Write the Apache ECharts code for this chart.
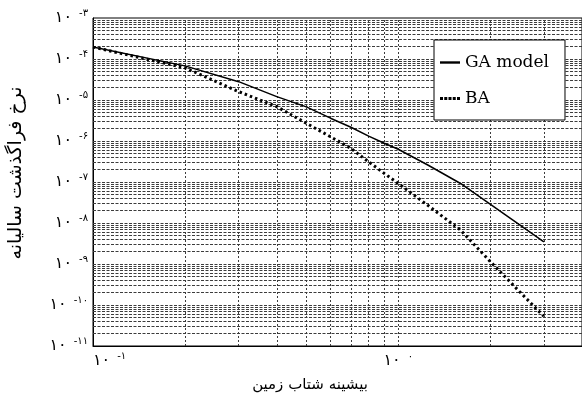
<!DOCTYPE html>
<html>
<head>
<meta charset="utf-8">
<script src="https://cdn.jsdelivr.net/npm/echarts@6/dist/echarts.min.js"></script>
<style>
html,body{margin:0;padding:0;background:#fff;}
#c{width:582px;height:399px;}
</style>
</head>
<body>
<div id="c"></div>
<script>
// ---- data ----
const xValues = [0.1, 0.2, 0.3, 0.4, 0.5, 0.6, 0.7, 0.8, 0.9, 1.0, 1.25, 1.6, 2.0, 2.5, 3.0];
const gaRate  = [1.95e-4, 6.8e-5, 2.8e-5, 1.21e-5, 6.8e-6, 3.6e-6, 2.16e-6, 1.32e-6, 8.8e-7, 6.3e-7, 2.6e-7, 9.2e-8, 2.9e-8, 9.0e-9, 3.45e-9];
const baRate  = [1.95e-4, 6.1e-5, 1.6e-5, 6.9e-6, 2.7e-6, 1.27e-6, 6.6e-7, 3.1e-7, 1.62e-7, 9.2e-8, 2.7e-8, 6.7e-9, 1.16e-9, 2.1e-10, 5.3e-11];
const seriesNames = ['GA model', 'BA'];
const yExponents = [-3, -4, -5, -6, -7, -8, -9, -10, -11];
const xExponents = [-1, 0];
const yMultipliers = [1, 2, 3, 4, 5, 6, 7, 8, 9];
const xGridValues = [0.2, 0.3, 0.4, 0.5, 0.6, 0.7, 0.8, 0.9, 1, 2, 3];
const xRange = [0.1, 4];
const yRange = [1e-11, 1e-3];
const xTitle = 'بیشینه شتاب زمین';
const yTitle = 'نرخ فراگذشت سالیانه';

const faDigits = '۰۱۲۳۴۵۶۷۸۹';
const fa = s => String(s).replace(/\d/g, d => faDigits[+d]);
function powLabel(e) {
  return '{b|' + fa(10) + '}{e|' + (e < 0 ? '-' : '') + fa(Math.abs(e)) + '}';
}
function labelFor(v, exps) {
  const lg = Math.log10(v);
  const e = Math.round(lg);
  if (Math.abs(lg - e) > 1e-6) return '';
  if (exps.indexOf(e) < 0) return '';
  return powLabel(e);
}

const hLines = [];
const yMinE = Math.min.apply(null, yExponents), yMaxE = Math.max.apply(null, yExponents);
for (let e = yMinE; e < yMaxE; e++) {
  yMultipliers.forEach(m => {
    if (e === yMinE && m === 1) return;
    const v = m * Math.pow(10, e);
    hLines.push({ coords: [[xRange[0], v], [xRange[1], v]] });
  });
}
const vLines = xGridValues.map(v => ({ coords: [[v, yRange[0]], [v, yRange[1]]] }));

const rich = {
  b: { fontFamily: 'DejaVu Sans', fontSize: 16, color: '#000' },
  e: { fontFamily: 'DejaVu Sans', fontSize: 10, color: '#000', padding: [0, 0, 10, 7] }
};

const chart = echarts.init(document.getElementById('c'), null, { renderer: 'canvas' });
chart.setOption({
  animation: false,
  backgroundColor: '#fff',
  grid: { left: 93, top: 18, width: 497, height: 328, show: true, borderColor: '#000', borderWidth: 1, containLabel: false },
  xAxis: {
    type: 'log', logBase: 10, min: xRange[0], max: xRange[1],
    axisLine: { show: true, lineStyle: { color: '#000', width: 1 } },
    axisTick: { show: false },
    splitLine: { show: false },
    axisLabel: { margin: 5, showMaxLabel: false, alignMinLabel: 'left', formatter: v => labelFor(v, xExponents), rich: rich }
  },
  yAxis: {
    type: 'log', logBase: 10, min: yRange[0], max: yRange[1], splitNumber: 8,
    axisLine: { show: true, lineStyle: { color: '#000', width: 1 } },
    axisTick: { show: false },
    splitLine: { show: false },
    axisLabel: { margin: 5, formatter: v => labelFor(v, yExponents), rich: rich }
  },
  legend: {
    data: [
      { name: seriesNames[0], icon: 'path://M0,0H20V2.4H0Z' },
      { name: seriesNames[1], icon: 'path://M0,0h3v3h-3zM4.25,0h3v3h-3zM8.5,0h3v3h-3zM12.75,0h3v3h-3zM17,0h3v3h-3z' }
    ],
    orient: 'vertical', left: 434, top: 40,
    backgroundColor: '#fff', borderColor: '#000', borderWidth: 1,
    padding: [14, 16, 13, 6], itemGap: 19, itemWidth: 20, itemHeight: 3,
    textStyle: { fontFamily: 'DejaVu Serif', fontSize: 17, color: '#000' }
  },
  graphic: [
    { type: 'text', x: 310, y: 385, style: { text: xTitle, fontFamily: 'DejaVu Sans', fontSize: 15, fill: '#000', textAlign: 'center', textVerticalAlign: 'middle' } },
    { type: 'text', x: 16, y: 173, rotation: Math.PI / 2, style: { text: yTitle, fontFamily: 'DejaVu Sans', fontSize: 19, fill: '#000', textAlign: 'center', textVerticalAlign: 'middle' } }
  ],
  series: [
    {
      name: 'hgrid', type: 'lines', coordinateSystem: 'cartesian2d', silent: true, z: 1,
      lineStyle: { color: '#3c3c3c', width: 1, type: [3, 1.5], opacity: 1 },
      data: hLines
    },
    {
      name: 'vgrid', type: 'lines', coordinateSystem: 'cartesian2d', silent: true, z: 1,
      lineStyle: { color: '#3c3c3c', width: 1, type: [2, 2], opacity: 1 },
      data: vLines
    },
    {
      name: seriesNames[0], type: 'line', z: 3, symbol: 'none', smooth: false,
      data: xValues.map((x, i) => [x, gaRate[i]]),
      lineStyle: { color: '#000', width: 1.5, type: 'solid' },
      itemStyle: { color: '#000' }
    },
    {
      name: seriesNames[1], type: 'line', z: 3, symbol: 'none', smooth: false,
      data: xValues.map((x, i) => [x, baRate[i]]),
      lineStyle: { color: '#000', width: 3, type: [2.5, 3], cap: 'butt' },
      itemStyle: { color: '#000' }
    }
  ]
});
</script>
</body>
</html>
